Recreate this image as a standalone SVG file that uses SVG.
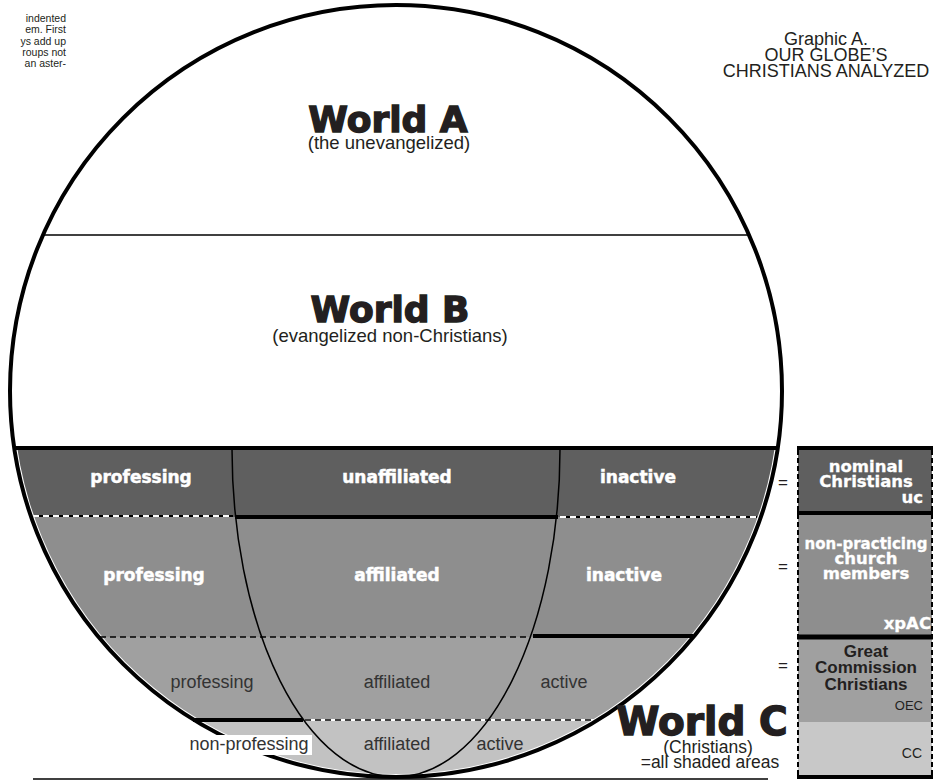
<svg xmlns="http://www.w3.org/2000/svg" width="940" height="783" viewBox="0 0 940 783">
<defs>
<clipPath id="globe"><circle cx="396" cy="391" r="383"/></clipPath>
<style>
.t{font-family:"Liberation Sans",Arial,sans-serif;fill:#231f20}
.hv{font-family:"DejaVu Sans","Liberation Sans",sans-serif;font-weight:bold}
.world{font-size:36px;fill:#231f20;stroke:#231f20;stroke-width:1.4;text-anchor:middle}
.sub{font-family:"Liberation Sans",Arial,sans-serif;font-size:18.5px;fill:#231f20;text-anchor:middle}
.wl{fill:#fff;stroke:#fff;stroke-width:0.5;font-size:17px;text-anchor:middle}
.dl{font-family:"Liberation Sans",Arial,sans-serif;font-size:18px;fill:#333;text-anchor:middle}
.thick{stroke:#000;stroke-width:4;fill:none}
.thin{stroke:#000;stroke-width:1.5;fill:none}
.dashw{stroke:#fff;stroke-width:2;stroke-dasharray:6 4;fill:none}
.dashk{stroke:#000;stroke-width:1.5;stroke-dasharray:6 4;fill:none}
.eq{font-family:"Liberation Sans",Arial,sans-serif;font-size:17px;fill:#231f20;text-anchor:middle}
.rc{font-size:16.5px;fill:#fff;stroke:#fff;stroke-width:0.3}
.mid{text-anchor:middle}
.end{text-anchor:end}
</style>
</defs>
<rect width="940" height="783" fill="#fff"/>

<g id="intro-text" class="t" font-size="10.5" text-anchor="end" fill="#333">
<text x="66" y="22">indented</text>
<text x="66" y="33.3">em.  First</text>
<text x="66" y="44.6">ys add up</text>
<text x="66" y="56">roups  not</text>
<text x="66" y="67.3">an aster-</text>
</g>

<g id="title" class="t" font-size="18" text-anchor="middle">
<text x="826" y="45">Graphic A.</text>
<text x="826" y="61">OUR GLOBE’S</text>
<text x="826" y="77">CHRISTIANS ANALYZED</text>
</g>

<g id="bands" clip-path="url(#globe)">
<rect x="0" y="449" width="800" height="68" fill="#5f5f5f"/>
<rect x="0" y="517" width="800" height="120" fill="#8e8e8e"/>
<rect x="0" y="637" width="800" height="83" fill="#a0a0a0"/>
<rect x="0" y="720" width="800" height="63" fill="#c2c2c2"/>
</g>

<g id="dividers">
<line class="thin" x1="42" y1="235" x2="750" y2="235"/>
<line class="thick" x1="14" y1="448" x2="778" y2="448"/>
<line x1="33" y1="516" x2="233" y2="516" stroke="#000" stroke-width="2"/>
<line class="dashw" x1="33" y1="516" x2="233" y2="516"/>
<line x1="560" y1="517" x2="757" y2="517" stroke="#000" stroke-width="2"/>
<line class="dashw" x1="560" y1="517" x2="757" y2="517"/>
<line class="thick" x1="235" y1="517" x2="558" y2="517"/>
<line class="dashk" x1="100" y1="637" x2="531" y2="637"/>
<line class="thick" x1="533" y1="636" x2="693" y2="636"/>
<line x1="305" y1="720" x2="595" y2="720" stroke="#fff" stroke-width="2"/>
<line class="dashk" x1="305" y1="720" x2="595" y2="720"/>
<line class="thick" x1="193" y1="720" x2="303" y2="720"/>
<path class="thin" d="M232,449 A164,328 0 0 0 560,449"/>
</g>

<circle id="globe-outline" cx="396" cy="391" r="386" fill="none" stroke="#000" stroke-width="4"/>
<line x1="33" y1="779" x2="768" y2="779" stroke="#000" stroke-width="1.5"/>

<g id="world-a">
<text class="hv world" x="388" y="132">World A</text>
<text class="sub" x="389" y="149">(the unevangelized)</text>
</g>
<g id="world-b">
<text class="hv world" x="390" y="322">World B</text>
<text class="sub" x="390" y="342">(evangelized non-Christians)</text>
</g>

<g id="band-labels">
<text class="hv wl" x="141" y="483">professing</text>
<text class="hv wl" x="397" y="483">unaffiliated</text>
<text class="hv wl" x="638" y="483">inactive</text>
<text class="hv wl" x="154" y="581">professing</text>
<text class="hv wl" x="397" y="581">affiliated</text>
<text class="hv wl" x="624" y="581">inactive</text>
<text class="dl" x="212" y="688">professing</text>
<text class="dl" x="397" y="688">affiliated</text>
<text class="dl" x="564" y="688">active</text>
<rect x="186" y="735" width="126" height="20" fill="#fff"/>
<text class="dl" x="249" y="750">non-professing</text>
<text class="dl" x="397" y="750">affiliated</text>
<text class="dl" x="500" y="750">active</text>
</g>

<g id="world-c">
<text class="hv world" x="702" y="735" style="font-size:39px">World C</text>
<text class="sub" x="708" y="753" style="font-size:17.5px">(Christians)</text>
<text class="sub" x="710" y="768" style="font-size:17.5px">=all shaded areas</text>
</g>

<g id="equals">
<text class="eq" x="783" y="488">=</text>
<text class="eq" x="783" y="572">=</text>
<text class="eq" x="783" y="671">=</text>
</g>

<g id="right-column">
<rect x="798" y="450" width="134" height="63" fill="#5f5f5f"/>
<rect x="798" y="515" width="134" height="121" fill="#8e8e8e"/>
<rect x="798" y="638" width="134" height="84" fill="#a0a0a0"/>
<rect x="798" y="722" width="134" height="54" fill="#c8c8c8"/>
<line x1="798" y1="450" x2="798" y2="778" stroke="#000" stroke-width="2" stroke-dasharray="5 3"/>
<line x1="932" y1="450" x2="932" y2="778" stroke="#000" stroke-width="2" stroke-dasharray="5 3"/>
<line class="thick" x1="797" y1="448" x2="933" y2="448"/>
<line class="thick" x1="797" y1="513" x2="933" y2="513"/>
<line x1="797" y1="637" x2="933" y2="637" stroke="#000" stroke-width="5"/>
<line class="thick" x1="797" y1="777" x2="933" y2="777"/>
<text class="hv rc mid" x="866" y="472">nominal</text>
<text class="hv rc mid" x="866" y="487">Christians</text>
<text class="hv rc end" x="923" y="503">uc</text>
<text class="hv rc mid" x="866" y="549" style="font-size:15px">non-practicing</text>
<text class="hv rc mid" x="866" y="564">church</text>
<text class="hv rc mid" x="866" y="579">members</text>
<text class="hv rc end" x="931" y="629">xpAC</text>
<g class="t" font-weight="bold" font-size="17" text-anchor="middle" fill="#333">
<text x="866" y="657">Great</text>
<text x="866" y="673">Commission</text>
<text x="866" y="690">Christians</text>
</g>
<text class="t end" x="923" y="710" font-size="13" fill="#333">OEC</text>
<text class="t end" x="922" y="758" font-size="14" fill="#333">CC</text>
</g>
</svg>
